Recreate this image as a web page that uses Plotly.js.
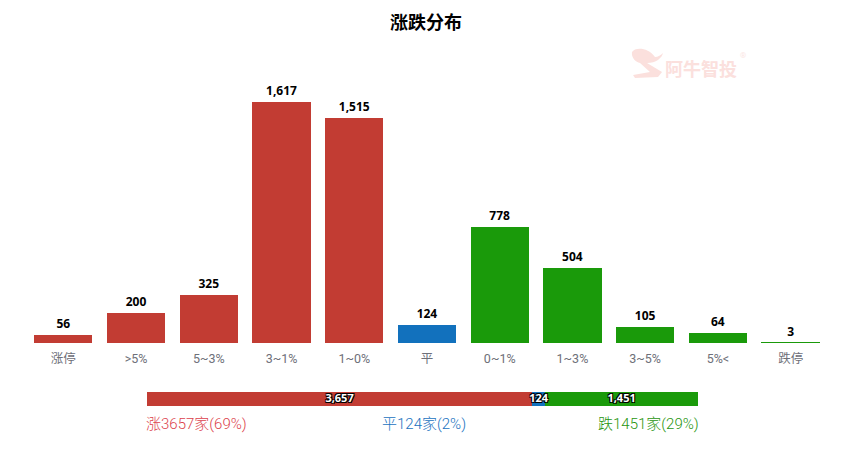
<!DOCTYPE html>
<html><head><meta charset="utf-8">
<script src="https://cdn.plot.ly/plotly-3.0.1.min.js"></script>
<style>html,body{margin:0;padding:0;background:#fff}</style></head>
<body><div id="c" style="width:852px;height:458px"></div>
<script>
const categories = ['涨停','>5%','5~3%','3~1%','1~0%','平','0~1%','1~3%','3~5%','5%<','跌停'];
const counts = [56,200,325,1617,1515,124,778,504,105,64,3];
const barColors = ['#c23c33','#c23c33','#c23c33','#c23c33','#c23c33','#1271bd','#1a9a0a','#1a9a0a','#1a9a0a','#1a9a0a','#1a9a0a'];
const summaryNames = ['涨','平','跌'];
const summaryValues = [3657,124,1451];
const summaryColors = ['#c23c33','#1271bd','#1a9a0a'];
const summaryLabels = ['涨3657家(69%)','平124家(2%)','跌1451家(29%)'];
const summaryText = ['#dc3f4c','#1a72c0','#1f9510'];

const W=852,H=458, px=x=>x/W, py=y=>1-y/H;
const font='Roboto, "Noto Sans CJK SC", sans-serif';
const halo='-1px -1px 0 #000,1px -1px 0 #000,-1px 1px 0 #000,1px 1px 0 #000';
const total=summaryValues.reduce((a,b)=>a+b,0);

const traces=[{
  type:'bar',x:categories,y:counts,xaxis:'x',yaxis:'y',
  marker:{color:barColors,line:{color:barColors,width:counts.map(v=>v<10?1:0)}},width:0.8,
  text:counts.map(v=>v.toLocaleString('en-US')),textposition:'outside',cliponaxis:false,
  textfont:{family:'"Open Sans",'+font,size:12,color:'#000',weight:'bold'},hoverinfo:'skip'
}];
summaryValues.forEach((v,i)=>traces.push({
  type:'bar',orientation:'h',x:[v],y:[summaryNames[0]],xaxis:'x2',yaxis:'y2',
  marker:{color:summaryColors[i],line:{width:0}},width:1,hoverinfo:'skip'
}));
let run=0;
const mids=summaryValues.map(v=>{const m=run+v/2;run+=v;return m;});
traces.push({
  type:'scatter',mode:'text',x:mids,y:summaryValues.map(()=>summaryNames[0]),xaxis:'x2',yaxis:'y2',
  text:summaryValues.map(v=>v.toLocaleString('en-US')),textposition:'middle center',cliponaxis:false,
  textfont:{family:'"Open Sans",'+font,size:11,color:'#fff',weight:'bold',shadow:halo},hoverinfo:'skip'
});

const legendX=[144,380,596];
const annotations=summaryLabels.map((t,i)=>({
  xref:'paper',yref:'paper',x:px(legendX[i]),y:py(424),xanchor:'left',yanchor:'middle',
  text:t,showarrow:false,font:{family:font,size:15,color:summaryText[i],weight:300}
}));
annotations.push({xref:'paper',yref:'paper',x:px(663),y:py(68),xanchor:'left',yanchor:'middle',
  text:'阿牛智投',showarrow:false,font:{family:'"Noto Sans CJK SC",sans-serif',size:18,color:'#fbe0dd',weight:'bold'}});
annotations.push({xref:'paper',yref:'paper',x:px(738),y:py(56),xanchor:'left',yanchor:'middle',
  text:'®',showarrow:false,font:{family:font,size:8,color:'#fbe6e4'}});

const P=(x,y)=>px(x).toFixed(4)+','+py(y).toFixed(4);
const logo='M'+P(632,52)+' C'+P(635,47)+' '+P(648,47)+' '+P(655,57)+' C'+P(658,57)+' '+P(661,55)+' '+P(663,53)+
 ' C'+P(662,58)+' '+P(656,63)+' '+P(647,63)+' L'+P(662,72)+' L'+P(658,77)+' L'+P(635,78)+' L'+P(633,75)+' L'+P(650,72)+' L'+P(640,63)+' C'+P(636,62)+' '+P(631,58)+' '+P(632,52)+' Z';

const layout={
  width:W,height:H,margin:{l:0,r:0,t:0,b:0},paper_bgcolor:'#fff',plot_bgcolor:'#fff',showlegend:false,
  barmode:'stack',
  title:{text:'涨跌分布',x:0.5,xanchor:'center',y:py(23),yanchor:'middle',font:{family:font,size:18,color:'#000',weight:'bold'}},
  xaxis:{domain:[px(27),px(827)],anchor:'y',type:'category',tickfont:{family:font,size:12.5,color:'#6e7079'},
    showgrid:false,showline:false,zeroline:false,ticks:'outside',ticklen:4,tickcolor:'rgba(0,0,0,0)'},
  yaxis:{domain:[py(343),py(40)],anchor:'x',range:[0,2036],visible:false},
  xaxis2:{domain:[px(147),px(698)],anchor:'y2',range:[0,total],visible:false},
  yaxis2:{domain:[py(406),py(392)],anchor:'x2',type:'category',visible:false},
  annotations,
  shapes:[{type:'path',xref:'paper',yref:'paper',path:logo,fillcolor:'#fbe0dd',line:{width:0},layer:'below'}]
};
Plotly.newPlot('c',traces,layout,{displayModeBar:false,staticPlot:true});
</script></body></html>
